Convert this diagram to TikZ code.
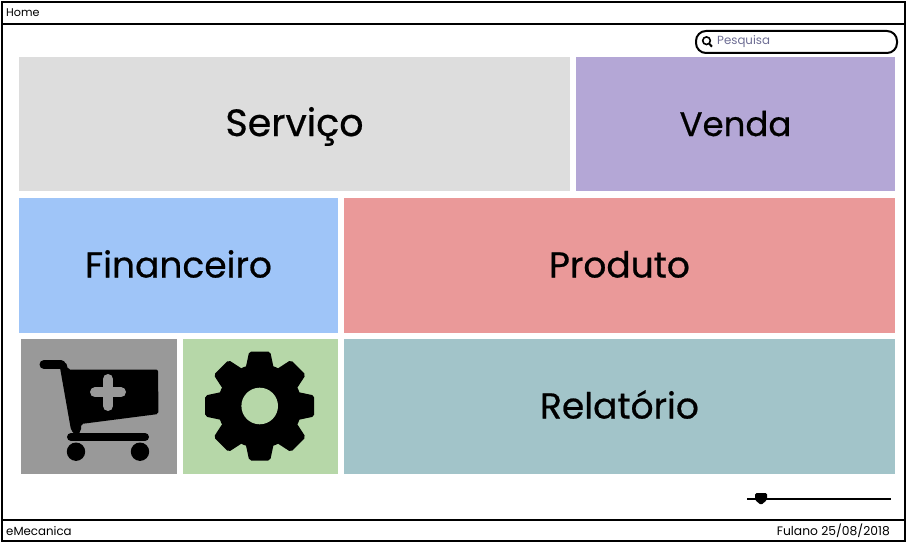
\documentclass[tikz,border=0pt]{standalone}
\usepackage{fontspec}
\setmainfont{Poppins}
\newfontfamily\tilefont{Poppins}[FakeBold=0.6]
\usepackage{xcolor}
\usetikzlibrary{positioning,calc}
\definecolor{cinza}{HTML}{DDDDDD}
\definecolor{roxo}{HTML}{B4A7D6}
\definecolor{azul}{HTML}{9FC5F8}
\definecolor{vermelho}{HTML}{EA9999}
\definecolor{verde}{HTML}{B6D7A8}
\definecolor{petroleo}{HTML}{A2C4C9}
\definecolor{chumbo}{HTML}{999999}
\tikzset{
  tile/.style={inner sep=0pt, text height=28pt, text depth=4pt, font=\tilefont\fontsize{36}{40}\selectfont},
  small/.style={inner sep=0pt, font=\fontsize{11.8}{14}\selectfont},
}
\begin{document}
\begin{tikzpicture}[x=1pt,y=-1pt]
\useasboundingbox (0,0) rectangle (908,543);

% Window
\draw[line width=2pt] (2,2) rectangle (905,541);
\coordinate (headerL) at (2,24);
\coordinate (headerR) at (905,24);
\coordinate (footerL) at (2,519.5);
\coordinate (footerR) at (905,519.5);
\draw[line width=2pt] (headerL) -- (headerR);
\draw[line width=2pt] (footerL) -- (footerR);
\node[small, anchor=west, font=\fontsize{11.2}{14}\selectfont] (home) at (6,13) {Home};
\node[small, anchor=west] (brand) at (6,531.5) {eMecanica};
\node[small, anchor=east, font=\fontsize{12.3}{14}\selectfont] (user) at (890,531) {Fulano 25/08/2018};

% Search
\node[draw, line width=2pt, rounded corners=10pt, minimum width=201pt, minimum height=22pt, inner sep=0pt] (search) at (796.5,42) {};
\node[small, anchor=west, text=gray!85!blue] (searchtext) at (717,42) {Pesquisa};
\draw[line width=1.6pt] (706.5,40.7) circle (3.8pt);
\draw[line width=2pt] (709,43.5) -- (712,46.7);

% Tiles
\node[tile, fill=cinza, minimum width=551pt, minimum height=134pt, font=\tilefont\fontsize{38}{40}\selectfont] (servico) at (294.5,124) {Serviço};
\node[tile, fill=roxo, minimum width=319pt, minimum height=134pt, font=\tilefont\fontsize{34}{40}\selectfont] (venda) at (735.5,124) {Venda};
\node[tile, fill=azul, minimum width=319pt, minimum height=135pt] (financeiro) at (178.5,265.5) {Financeiro};
\node[tile, fill=vermelho, minimum width=551pt, minimum height=135pt] (produto) at (619.5,265.5) {Produto};
\node[tile, fill=chumbo, minimum width=156pt, minimum height=135pt] (carrinho) at (99,406.5) {};
\node[tile, fill=verde, minimum width=155pt, minimum height=135pt] (config) at (260.5,406.5) {};
\node[tile, fill=petroleo, minimum width=551pt, minimum height=135pt] (relatorio) at (619.5,406.5) {Relatório};

% Cart
\draw[line width=9pt, line cap=round] (44,364.5) -- (61,364.5);
\fill[rounded corners=2pt] (59,362) -- (66,362) -- (68,369.5) -- (158,369.5) -- (158.5,414) -- (81,424) -- (81,431) -- (76,436) -- (71,430) -- cycle;
\draw[line width=8pt, line cap=round] (71,437) -- (145,437);
\fill (76,451.7) circle (9.2pt);
\fill (140,451.7) circle (9.2pt);
\draw[chumbo, line width=10pt, line cap=round] (95,392.3) -- (121,392.3);
\draw[chumbo, line width=10pt, line cap=round] (108,379) -- (108,406);

% Gear
\foreach \a in {0,45,...,315}
  \fill[rounded corners=2pt, shift={(259.7,406)}, rotate=\a]
    (-14,-38) -- (-10.5,-54.5) -- (10.5,-54.5) -- (14,-38) -- cycle;
\fill (259.7,406) circle (42pt);
\fill[verde] (259.7,406) circle (18.3pt);

% Slider
\coordinate (sliderL) at (747,499);
\coordinate (sliderR) at (891,499);
\draw[line width=2pt] (sliderL) -- (sliderR);
\fill[rounded corners=1.5pt] (755,493) -- (767,493) -- (767,500) -- (761,505) -- (755,500) -- cycle;
\end{tikzpicture}
\end{document}
